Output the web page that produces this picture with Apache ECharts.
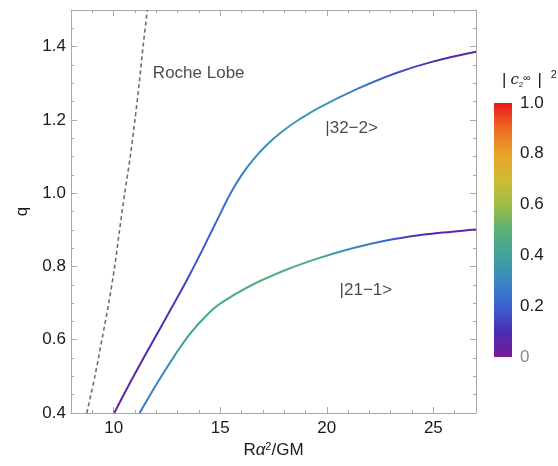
<!DOCTYPE html>
<html><head><meta charset="utf-8">
<script src="https://cdn.jsdelivr.net/npm/echarts@6/dist/echarts.min.js"></script>
<style>html,body{margin:0;padding:0;background:#fff}#c{width:558px;height:466px}</style>
</head><body><div id="c"></div>
<script>
// ---- data ----
const rocheQ = [0.4, 0.5, 0.6, 0.7, 0.8, 0.9, 1.0, 1.1, 1.2, 1.3, 1.4, 1.5];
const rocheX = [8.74, 9.12, 9.45, 9.77, 10.05, 10.28, 10.52, 10.78, 11.0, 11.2, 11.38, 11.58];

const upperX = [10.03, 10.72, 11.43, 12.22, 12.93, 13.52, 14.17, 14.86, 15.50, 16.01, 16.54, 17.19, 17.88, 18.65, 19.69, 21.33, 23.26, 24.97, 27.0];
const upperQ = [0.400, 0.477, 0.553, 0.635, 0.709, 0.772, 0.846, 0.927, 1.001, 1.050, 1.091, 1.132, 1.167, 1.199, 1.235, 1.282, 1.328, 1.359, 1.386];
const upperC = [0.02, 0.04, 0.07, 0.1, 0.12, 0.15, 0.18, 0.21, 0.25, 0.28, 0.31, 0.33, 0.35, 0.36, 0.35, 0.28, 0.17, 0.1, 0.05];

const lowerX = [11.22, 12.04, 12.83, 13.61, 14.40, 15.03, 16.44, 18.01, 19.59, 21.16, 22.73, 24.31, 25.88, 27.0];
const lowerQ = [0.400, 0.481, 0.554, 0.618, 0.669, 0.700, 0.748, 0.789, 0.822, 0.849, 0.870, 0.885, 0.895, 0.901];
const lowerC = [0.24, 0.29, 0.34, 0.38, 0.42, 0.45, 0.48, 0.47, 0.42, 0.32, 0.2, 0.1, 0.05, 0.02];

const annText = ['Roche Lobe', '|32\u22122>', '|21\u22121>'];
const annX = [11.84, 19.93, 20.6];
const annQ = [1.328, 1.178, 0.736];

const xMajorTicks = [10, 15, 20, 25];
const yMajorTicks = [0.4, 0.6, 0.8, 1.0, 1.2, 1.4];
const cbTicks = [0, 0.2, 0.4, 0.6, 0.8, 1.0];

// ---- colormap ----
const cmapColors = ['#771a98','#4a2db2','#3b62d2','#3a88c2','#3ea39c','#5cb173','#9fbd46','#d0bb35','#eaa22a','#ee6b22','#e8161c'];
function hex2rgb(h){return [parseInt(h.substr(1,2),16),parseInt(h.substr(3,2),16),parseInt(h.substr(5,2),16)];}
function cmap(t){
  t=Math.max(0,Math.min(1,t));
  const n=cmapColors.length-1, p=t*n, i=Math.min(Math.floor(p),n-1), f=p-i;
  const a=hex2rgb(cmapColors[i]), b=hex2rgb(cmapColors[i+1]);
  return 'rgb('+a.map((v,k)=>Math.round(v+(b[k]-v)*f)).join(',')+')';
}
function curveGradient(xs, cs){
  const x0=xs[0], x1=xs[xs.length-1];
  return new echarts.graphic.LinearGradient(0,0,1,0, xs.map((x,i)=>({offset:(x-x0)/(x1-x0), color:cmap(cs[i])})));
}
const zip=(a,b)=>a.map((v,i)=>[v,b[i]]);

const FONT='Liberation Sans, Arial, sans-serif';
const TXT='#1a1a1a';
const FRAME='#a8a8a8';

function isMult(v,s){return Math.abs(v/s-Math.round(v/s))<1e-6;}

const chart=echarts.init(document.getElementById('c'),null,{renderer:'canvas'});
const baseAxis={splitLine:{show:false}};
chart.setOption({
  animation:false,
  backgroundColor:'#fff',
  title:{
    text:'{b1||}{c|c}{sub|2}{sup|\u221e}{b||}{sup2|2}',
    left:502, top:69, padding:0,
    textStyle:{fontWeight:'normal',rich:{
      b1:{fontSize:17,fontWeight:'normal',fontFamily:FONT,color:TXT,lineHeight:22,padding:[0,4,0,0]},
      b:{fontSize:17,fontWeight:'normal',fontFamily:FONT,color:TXT,lineHeight:22},
      c:{fontSize:15,fontWeight:'normal',fontFamily:'DejaVu Serif, serif',fontStyle:'italic',color:TXT,verticalAlign:'middle'},
      sub:{fontSize:8,fontWeight:'normal',fontFamily:FONT,color:TXT,verticalAlign:'bottom',padding:[0,0,2,0]},
      sup:{fontSize:10,fontWeight:'normal',fontFamily:FONT,color:TXT,verticalAlign:'top',padding:[4,7,0,0]},
      sup2:{fontSize:11,fontWeight:'normal',fontFamily:FONT,color:TXT,verticalAlign:'top',padding:[0,0,0,9]}
    }}
  },
  grid:[
    {left:71,right:82,top:10,bottom:53},
    {left:494,width:18,top:103,height:254}
  ],
  xAxis:[
    Object.assign({},baseAxis,{type:'value',gridIndex:0,position:'bottom',min:8,max:27,minInterval:5,maxInterval:5,
      name:'{n|R}{i|\u03b1}{s|2}{n|/GM}',nameLocation:'middle',nameGap:26,
      nameTextStyle:{rich:{n:{fontSize:17,fontFamily:FONT,color:TXT},i:{fontSize:17,fontFamily:FONT,fontStyle:'italic',color:TXT},s:{fontSize:11,fontFamily:FONT,color:TXT,verticalAlign:'top'}}},
      axisLine:{show:true,onZero:false,lineStyle:{color:FRAME,width:1}},
      axisTick:{inside:true,length:6,lineStyle:{color:FRAME}},
      axisLabel:{showMinLabel:false,showMaxLabel:false,fontSize:17,fontFamily:FONT,color:TXT,margin:7,
        formatter:v=>xMajorTicks.indexOf(v)>=0?String(v):''}}),
    Object.assign({},baseAxis,{type:'value',gridIndex:0,position:'bottom',min:8,max:27,interval:1,
      axisLine:{show:false},axisTick:{inside:true,length:3,lineStyle:{color:FRAME}},axisLabel:{show:false}}),
    Object.assign({},baseAxis,{type:'value',gridIndex:0,position:'top',min:8,max:27,minInterval:5,maxInterval:5,
      axisLine:{show:true,onZero:false,lineStyle:{color:FRAME,width:1}},
      axisTick:{inside:true,length:6,lineStyle:{color:FRAME}},axisLabel:{show:false}}),
    Object.assign({},baseAxis,{type:'value',gridIndex:0,position:'top',min:8,max:27,interval:1,
      axisLine:{show:false},axisTick:{inside:true,length:3,lineStyle:{color:FRAME}},axisLabel:{show:false}}),
    {type:'category',gridIndex:1,data:['c'],show:false}
  ],
  yAxis:[
    Object.assign({},baseAxis,{type:'value',gridIndex:0,position:'left',min:0.4,max:1.5,interval:0.2,
      name:'q',nameLocation:'middle',nameGap:40,nameRotate:90,
      nameTextStyle:{fontSize:17,fontFamily:FONT,color:TXT},
      axisLine:{show:true,onZero:false,lineStyle:{color:FRAME,width:1}},
      axisTick:{inside:true,length:6,lineStyle:{color:FRAME}},
      axisLabel:{showMaxLabel:false,fontSize:17,fontFamily:FONT,color:TXT,margin:5,
        formatter:v=>isMult(v,0.2)&&v<1.45?v.toFixed(1):''}}),
    Object.assign({},baseAxis,{type:'value',gridIndex:0,position:'left',min:0.4,max:1.5,interval:0.05,
      axisLine:{show:false},axisTick:{inside:true,length:3,lineStyle:{color:FRAME}},axisLabel:{show:false}}),
    Object.assign({},baseAxis,{type:'value',gridIndex:0,position:'right',min:0.4,max:1.5,interval:0.2,
      axisLine:{show:true,onZero:false,lineStyle:{color:FRAME,width:1}},
      axisTick:{inside:true,length:6,lineStyle:{color:FRAME}},axisLabel:{show:false}}),
    Object.assign({},baseAxis,{type:'value',gridIndex:0,position:'right',min:0.4,max:1.5,interval:0.05,
      axisLine:{show:false},axisTick:{inside:true,length:3,lineStyle:{color:FRAME}},axisLabel:{show:false}}),
    Object.assign({},baseAxis,{type:'value',gridIndex:1,position:'right',min:0,max:1,interval:0.2,
      axisLine:{show:false},axisTick:{show:false},
      axisLabel:{fontSize:17,fontFamily:FONT,color:TXT,margin:8,
        formatter:v=>v===0?'{g|0}':v.toFixed(1),rich:{g:{fontSize:17,fontFamily:FONT,color:'#8a8a8a'}}}})
  ],
  series:[
    {type:'line',xAxisIndex:0,yAxisIndex:0,data:zip(rocheX,rocheQ),showSymbol:false,smooth:0.3,
      lineStyle:{color:'#6e6e6e',width:1.6,type:[4,3]},silent:true},
    {type:'line',xAxisIndex:0,yAxisIndex:0,data:zip(upperX,upperQ),showSymbol:false,smooth:0.4,
      lineStyle:{width:2,color:curveGradient(upperX,upperC)},silent:true},
    {type:'line',xAxisIndex:0,yAxisIndex:0,data:zip(lowerX,lowerQ),showSymbol:false,smooth:0.4,
      lineStyle:{width:2,color:curveGradient(lowerX,lowerC)},silent:true},
    {type:'scatter',xAxisIndex:0,yAxisIndex:0,symbolSize:0,silent:true,
      data:annX.map((x,i)=>({value:[x,annQ[i]],label:{formatter:annText[i]}})),
      label:{show:true,position:'right',distance:0,fontSize:17,fontFamily:FONT,color:TXT}},
    {type:'bar',xAxisIndex:4,yAxisIndex:4,data:[1],barWidth:'100%',silent:true,
      itemStyle:{color:new echarts.graphic.LinearGradient(0,1,0,0,cmapColors.map((c,i)=>({offset:i/(cmapColors.length-1),color:c})))}}
  ]
});
</script></body></html>
